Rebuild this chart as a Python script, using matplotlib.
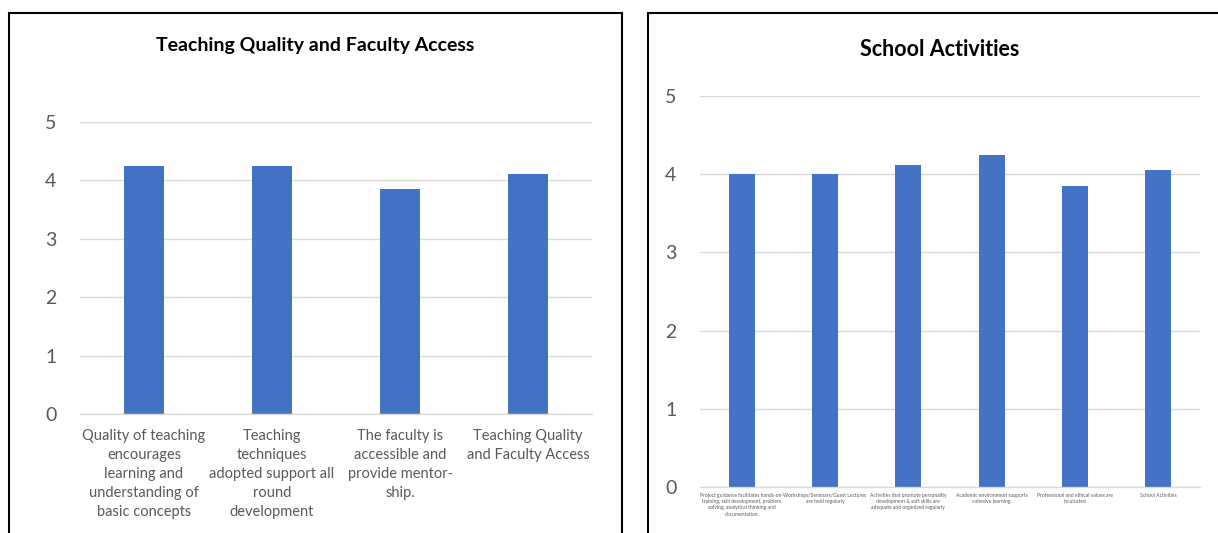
import matplotlib.pyplot as plt
from matplotlib.patches import Rectangle

plt.rcParams['font.family'] = ['Lato', 'DejaVu Sans']

teaching_labels = [
    "Quality of teaching\nencourages\nlearning and\nunderstanding of\nbasic concepts",
    "Teaching\ntechniques\nadopted support all\nround\ndevelopment",
    "The faculty is\naccessible and\nprovide mentor-\nship.",
    "Teaching Quality\nand Faculty Access",
]
teaching_values = [4.25, 4.25, 3.85, 4.11]

activity_labels = [
    "Project guidance facilitates hands-on-\ntraining, skill development, problem\nsolving, analytical thinking and\ndocumentation.",
    "Workshops/Seminars/Guest Lectures\nare held regularly",
    "Activities that promote personality\ndevelopment & soft skills are\nadequate and organized regularly",
    "Academic environment supports\ncohesive learning.",
    "Professional and ethical values are\ninculcated",
    "School Activities",
]
activity_values = [4.0, 4.0, 4.12, 4.25, 3.85, 4.05]

bar_color = '#4472c4'
grid_color = '#d9d9d9'
text_color = '#595959'

W, H = 1218, 533
fig = plt.figure(figsize=(W / 100, H / 100), dpi=100)

# panel frames
fig.patches.append(Rectangle((9 / W, -0.1), (622 - 9) / W, 1.1 - 13 / H,
                             transform=fig.transFigure, fill=False,
                             edgecolor='black', linewidth=1.5))
fig.patches.append(Rectangle((648 / W, -0.1), 1.0, 1.1 - 13 / H,
                             transform=fig.transFigure, fill=False,
                             edgecolor='black', linewidth=1.5))


def style(ax, labels, label_size, label_pad, ypad, spacing):
    ax.set_ylim(0, 5)
    ax.set_yticks(range(6))
    ax.set_xlim(-0.5, len(labels) - 0.5)
    ax.set_xticks(range(len(labels)))
    ax.set_xticklabels(labels, fontsize=label_size, color=text_color,
                       linespacing=spacing)
    ax.tick_params(axis='x', length=0, pad=label_pad)
    ax.tick_params(axis='y', length=0, pad=ypad, labelsize=14,
                   labelcolor=text_color)
    ax.yaxis.grid(True, color=grid_color, linewidth=1)
    ax.set_axisbelow(True)
    for s in ['top', 'right', 'left']:
        ax.spines[s].set_visible(False)
    ax.spines['bottom'].set_color(grid_color)
    ax.spines['bottom'].set_linewidth(1)


ax1 = fig.add_axes([80 / W, (H - 414) / H, 512 / W, 292 / H])
ax1.bar(range(len(teaching_values)), teaching_values, width=0.31, color=bar_color)
style(ax1, teaching_labels, 10.5, 11, 17, 1.45)
fig.text(315 / W, 1 - 46 / H, "Teaching Quality and Faculty Access",
         ha='center', va='center', fontsize=14, fontweight='bold')

ax2 = fig.add_axes([700 / W, (H - 487) / H, 500 / W, 391 / H])
ax2.bar(range(len(activity_values)), activity_values, width=0.31, color=bar_color)
style(ax2, activity_labels, 3.6, 4, 17, 1.35)
fig.text(940 / W, 1 - 49 / H, "School Activities",
         ha='center', va='center', fontsize=15.5, fontweight='bold')

fig.savefig('out.png', dpi=100)
